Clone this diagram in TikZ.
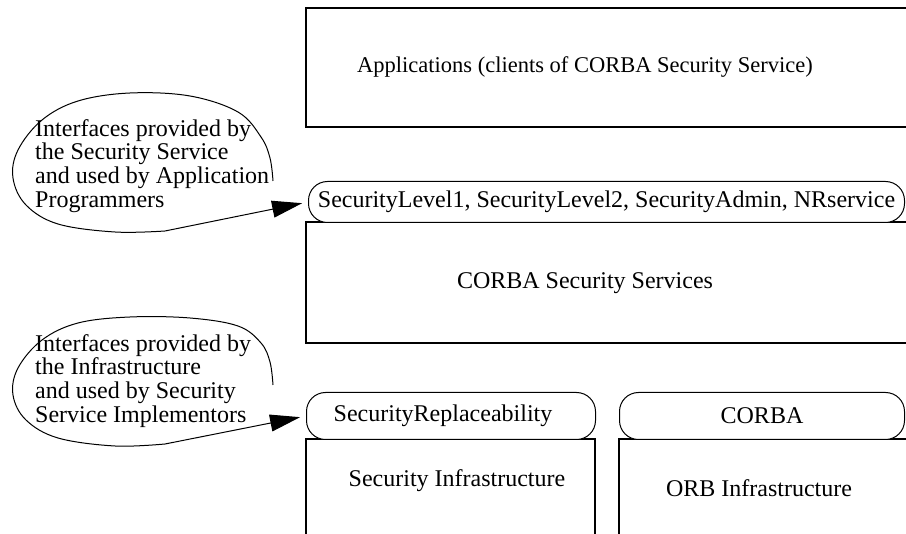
\documentclass[tikz,border=0pt]{standalone}
\usepackage{fontspec}
\setmainfont{Liberation Serif}
\usetikzlibrary{arrows.meta}
\begin{document}
\begin{tikzpicture}[x=1pt,y=-1pt,
  txt/.style={font=\fontsize{24}{24}\selectfont, inner sep=0pt},
  boxline/.style={draw, line width=2pt},
  pill/.style={draw, line width=1pt, rounded corners=19pt, fill=white, inner sep=0pt, font=\fontsize{24}{24}\selectfont},
  callout/.style={line width=1pt, shorten >=6pt, -{Triangle[length=30pt,width=17pt]}},
  note/.style={font=\fontsize{24}{23.7}\selectfont, align=left, inner sep=0pt, anchor=north west}]
\useasboundingbox (0,0) rectangle (906,534);
\clip (0,0) rectangle (906,534);
% boxes
\draw[boxline] (306,8) rectangle (914,127);
\draw[boxline] (306,222) rectangle (914,343);
\draw[boxline] (306,600) -- (306,439) -- (595,439) -- (595,600);
\draw[boxline] (619,600) -- (619,439) -- (914,439) -- (914,600);
% pills
\node[pill, minimum width=596pt, minimum height=41pt, anchor=north west] (p1) at (308,181) {SecurityLevel1, SecurityLevel2, SecurityAdmin, NRservice};
\node[pill, minimum width=289pt, minimum height=47pt, anchor=north west] (p2) at (306,392) {SecurityReplaceability\hspace*{16pt}};
\node[pill, minimum width=285pt, minimum height=47pt, anchor=north west] (p3) at (619,392) {CORBA};
% box texts
\node[txt, anchor=west, font=\fontsize{22.5}{24}\selectfont] (apps) at (357,67) {Applications (clients of CORBA Security Service)};
\node[txt] (css) at (585,283) {CORBA Security Services};
\node[txt] (si) at (457,481) {Security Infrastructure};
\node[txt] (orb) at (759,488) {ORB Infrastructure};
% callouts
\node[note] (n1) at (35,119) {Interfaces provided by\\the Security Service\\and used by Application\\Programmers};
\node[note] (n2) at (35,334) {Interfaces provided by\\the Infrastructure\\and used by Security\\Service Implementors};
\draw[callout] plot[smooth, tension=0.6] coordinates {(273,181) (270,158) (261,137) (238,112) (190,96) (130,93) (78,101) (42,120) (18,150) (13,178) (26,205) (58,224) (115,232) (165,231)} -- (p1.west);
\draw[callout] plot[smooth, tension=0.6] coordinates {(273,385) (270,362) (261,343) (238,326) (190,318) (130,317) (78,323) (42,340) (18,368) (13,395) (26,420) (58,438) (115,446) (165,444)} -- (p2.west);
\end{tikzpicture}
\end{document}
